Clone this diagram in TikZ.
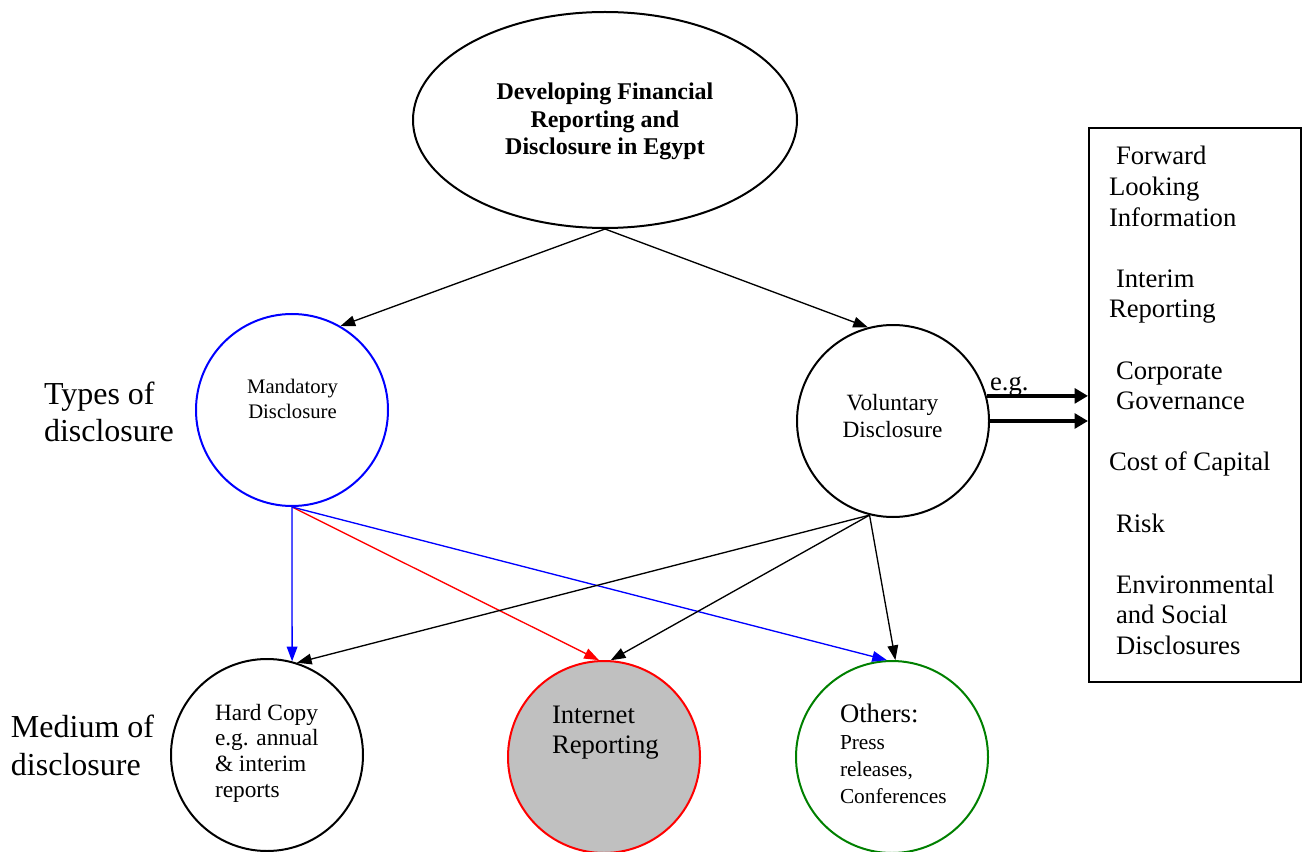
\documentclass[tikz,border=0pt]{standalone}
\usepackage{fontspec}
\setmainfont{Liberation Serif}
\usetikzlibrary{arrows.meta,shapes.geometric}

\definecolor{mandblue}{RGB}{0,0,255}
\definecolor{netred}{RGB}{255,0,0}
\definecolor{othgreen}{RGB}{0,128,0}
\definecolor{netgray}{RGB}{192,192,192}

% font size / baseline skip shortcut
\newcommand{\fsz}[2]{\fontsize{#1}{#2}\selectfont}

\begin{document}
\begin{tikzpicture}[x=0.75pt,y=-0.75pt,
  disc/.style={circle, draw, line width=1.5pt, minimum size=144pt, inner sep=0pt},
  conn/.style={line width=1pt, -{Triangle[length=11pt,width=8pt]}},
  boldarrow/.style={line width=2.6pt, -{Triangle[length=10pt,width=11pt]}},
  txt/.style={inner sep=0pt, outer sep=0pt},
]
\useasboundingbox (0,0) rectangle (1306,852);

% main topic
\node[ellipse, draw, line width=1.5pt, minimum width=288pt, minimum height=162pt,
      inner sep=0pt] (top) at (605,120) {};

% types of disclosure
\node[disc, draw=mandblue] (mand) at (292,410) {};
\node[disc] (vol) at (893,421) {};

% media of disclosure
\node[disc] (hard) at (267,755) {};
\node[disc, draw=netred, fill=netgray] (net) at (604,757) {};
\node[disc, draw=othgreen] (oth) at (892,757) {};

% examples of voluntary disclosure
\node[rectangle, draw, line width=1.5pt, minimum width=159pt, minimum height=415.5pt,
      inner sep=0pt] (box) at (1195,405) {};

% connectors
\draw[conn] (top.south) -- (mand.60);
\draw[conn] (top.south) -- (vol.105);

\draw[conn, draw=mandblue, fill=mandblue] (mand.south) -- (hard.75);
\draw[conn, draw=netred, fill=netred] (mand.south) -- (net.93);
\draw[conn, draw=mandblue, fill=mandblue] (mand.south) -- (oth.93);

\draw[conn] (vol.-104) -- (hard.72);
\draw[conn] (vol.-104) -- (net.86);
\draw[conn] (vol.-104) -- (oth.88);

\draw[boldarrow] (vol.15) -- (vol.15 -| box.west);
\draw[boldarrow] (vol.0) -- (vol.0 -| box.west);

% texts
\node[txt, anchor=base] (toptxt) at (605,100)
  {\fsz{18}{20.6}\bfseries\begin{tabular}[t]{@{}c@{}}Developing Financial\\Reporting and\\Disclosure in Egypt\end{tabular}};

\node[txt, anchor=base] (mandtxt) at (292.5,393)
  {\fsz{15.5}{18.75}\begin{tabular}[t]{@{}c@{}}Mandatory\\Disclosure\end{tabular}};

\node[txt, anchor=base] (voltxt) at (892.5,410)
  {\fsz{17.5}{20.25}\begin{tabular}[t]{@{}c@{}}Voluntary\\Disclosure\end{tabular}};

\node[txt, anchor=base west] (hardtxt) at (215,720)
  {\fsz{17.5}{19.3}\begin{tabular}[t]{@{}l@{}}Hard Copy\\e.g. annual\\\& interim\\reports\end{tabular}};

\node[txt, anchor=base west] (nettxt) at (552,723)
  {\fsz{20}{22.5}\begin{tabular}[t]{@{}l@{}}Internet\\Reporting\end{tabular}};

\node[txt, anchor=base west] (othtxt) at (840,722)
  {\fsz{16}{20.25}\begin{tabular}[t]{@{}l@{}}{\fsz{20}{22}Others:}\\Press\\releases,\\Conferences\end{tabular}};

\node[txt, anchor=base west] (typestxt) at (44,404)
  {\fsz{24}{27.75}\begin{tabular}[t]{@{}l@{}}Types of\\disclosure\end{tabular}};

\node[txt, anchor=base west] (medtxt) at (11,737)
  {\fsz{24}{28.5}\begin{tabular}[t]{@{}l@{}}Medium of\\disclosure\end{tabular}};

\node[txt, anchor=base west] (egtxt) at (990,390) {\fsz{20}{24}e.g.};

\node[txt, anchor=base west] (boxtxt) at (1109,165)
  {\fsz{20}{22.95}\begin{tabular}[t]{@{}l@{}}
   \hspace{5.25pt}Forward\\
   Looking\\
   Information\\
   \\
   \hspace{5.25pt}Interim\\
   Reporting\\
   \\
   \hspace{5.25pt}Corporate\\
   \hspace{5.25pt}Governance\\
   \\
   Cost of Capital\\
   \\
   \hspace{5.25pt}Risk\\
   \\
   \hspace{5.25pt}Environmental\\
   \hspace{5.25pt}and Social\\
   \hspace{5.25pt}Disclosures
  \end{tabular}};
\end{tikzpicture}
\end{document}
